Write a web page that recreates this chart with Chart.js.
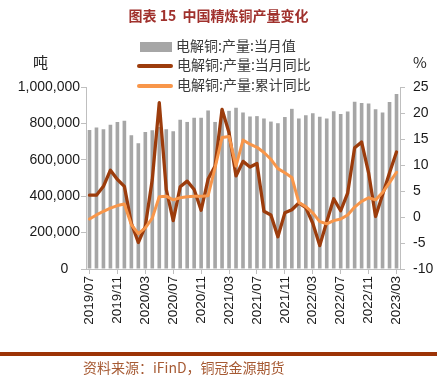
<!DOCTYPE html>
<html><head><meta charset="utf-8">
<script src="https://cdn.jsdelivr.net/npm/chart.js@4.4.0/dist/chart.umd.min.js"></script>
<style>
html,body{margin:0;padding:0;background:#fff;width:437px;height:382px;overflow:hidden;font-family:"Noto Sans CJK SC",sans-serif;}
#c{position:absolute;left:0;top:0;}
.abs{position:absolute;white-space:nowrap;}
#title{left:0;width:437px;top:5px;text-align:center;font-weight:bold;font-size:14px;line-height:20px;color:#A0312D;}
.leg{left:137px;height:20px;font-size:14px;line-height:20px;color:#3a3a3a;}
.leg span.k{display:inline-block;vertical-align:middle;width:36px;margin-right:4px;}
.unit{font-size:15px;line-height:20px;color:#222;}
#rule{left:0;top:352px;width:437px;height:4px;background:#9C3306;}
#src{left:83px;top:357px;font-size:14px;line-height:20px;color:#A65A33;}
</style></head>
<body>
<canvas id="c" width="437" height="382"></canvas>
<div id="title" class="abs">图表 15&nbsp; 中国精炼铜产量变化</div>
<div class="abs leg" style="top:35px;"><span class="k" style="height:10px;background:#A6A6A6;margin-left:3px;width:32px;"></span>电解铜:产量:当月值</div>
<div class="abs leg" style="top:54px;"><span class="k" style="height:4px;background:#9C3C0C;border-radius:2px;"></span>电解铜:产量:当月同比</div>
<div class="abs leg" style="top:74px;"><span class="k" style="height:4px;background:#F8964A;border-radius:2px;"></span>电解铜:产量:累计同比</div>
<div class="abs unit" style="left:33px;top:52px;">吨</div>
<div class="abs unit" style="left:413px;top:52px;">%</div>
<div id="rule" class="abs"></div>
<div id="src" class="abs">资料来源：iFinD，铜冠金源期货</div>
<script>
const categories = [
  "2019/07","2019/08","2019/09","2019/10","2019/11","2019/12",
  "2020/01","2020/02","2020/03","2020/04","2020/05","2020/06","2020/07","2020/08","2020/09","2020/10","2020/11","2020/12",
  "2021/01","2021/02","2021/03","2021/04","2021/05","2021/06","2021/07","2021/08","2021/09","2021/10","2021/11","2021/12",
  "2022/01","2022/02","2022/03","2022/04","2022/05","2022/06","2022/07","2022/08","2022/09","2022/10","2022/11","2022/12",
  "2023/01","2023/02","2023/03"
];
const monthlyOutput = [764000, 777000, 768000, 792000, 808000, 814000, 735000, 691000, 753000, 762000,
  780000, 768000, 757000, 820000, 808000, 831000, 831000, 871000, 808000, 877000,
  869000, 886000, 860000, 838000, 840000, 827000, 810000, 801000, 835000, 880000,
  827000, 845000, 856000, 836000, 827000, 867000, 851000, 866000, 919000, 912000,
  910000, 878000, 860000, 917000, 961000];
const monthlyYoY = [4.2, 4.2, 5.9, 9.0, 7.2, 5.9, -1.2, -4.9, -1.8, 7.2,
  22.0, 5.3, -0.7, 5.8, 6.9, 5.3, 1.3, 7.3, 9.8, 20.7,
  16.2, 7.9, 10.7, 9.6, 10.3, 1.1, 0.4, -3.8, 0.8, 1.4,
  2.7, 1.8, -1.2, -5.5, -0.9, 3.5, 1.2, 4.6, 13.3, 14.4,
  8.5, 0.1, 4.3, 8.5, 12.5];
const cumulativeYoY = [-0.4, 0.4, 1.1, 1.7, 2.2, 2.5, -1.5, -3.2, -2.1, -0.2,
  3.9, 4.0, 3.3, 3.7, 3.9, 4.0, 4.0, 4.1, 9.5, 15.3,
  15.5, 9.8, 14.8, 14.0, 13.4, 12.4, 11.1, 9.3, 8.5, 7.6,
  2.8, 2.0, 0.8, -0.9, -1.3, -0.7, -0.4, 0.4, 1.9, 3.0,
  3.7, 3.3, 4.7, 6.6, 8.6];
const seriesNames = ["电解铜:产量:当月值", "电解铜:产量:当月同比", "电解铜:产量:累计同比"];
const leftTicks = [0, 200000, 400000, 600000, 800000, 1000000];
const rightTicks = [-10, -5, 0, 5, 10, 15, 20, 25];

const axisColor = '#BFBFBF';
const tickFont = {family: '"Liberation Sans", Arial, sans-serif', size: 14};

new Chart(document.getElementById('c'), {
  data: {
    labels: categories,
    datasets: [
      {type: 'line', label: seriesNames[2], data: cumulativeYoY, yAxisID: 'yR', borderColor: '#F8964A',
       borderWidth: 3, pointRadius: 0, tension: 0, order: 1, borderCapStyle: 'round', borderJoinStyle: 'round'},
      {type: 'line', label: seriesNames[1], data: monthlyYoY, yAxisID: 'yR', borderColor: '#9C3C0C',
       borderWidth: 3.3, pointRadius: 0, tension: 0, order: 2, borderCapStyle: 'round', borderJoinStyle: 'round'},
      {type: 'bar', label: seriesNames[0], data: monthlyOutput, yAxisID: 'yL', backgroundColor: '#A6A6A6',
       barPercentage: 0.52, categoryPercentage: 1.0, order: 3}
    ]
  },
  options: {
    responsive: false, animation: false, devicePixelRatio: 1,
    layout: {padding: {top: 87, left: 0, right: 0, bottom: 0}},
    plugins: {legend: {display: false}, tooltip: {enabled: false}, title: {display: false}},
    scales: {
      x: {
        type: 'category', offset: true,
        grid: {display: true, drawOnChartArea: false, offset: false, color: axisColor, tickLength: 5},
        border: {color: axisColor},
        ticks: {autoSkip: false, maxRotation: 90, minRotation: 90, color: '#1a1a1a', padding: 2,
                font: {family: '"Liberation Sans", Arial, sans-serif', size: 13.5},
                callback: function(v){ return categories[v]; }},
        afterBuildTicks: function(s){ s.ticks = s.ticks.filter(t => t.value % 4 === 0); },
        afterFit: function(s){ s.height = 113; }
      },
      yL: {
        position: 'left', min: 0, max: 1000000,
        afterBuildTicks: function(s){ s.ticks = leftTicks.map(v => ({value: v})); },
        grid: {drawOnChartArea: false, color: axisColor, tickLength: 5},
        border: {color: axisColor},
        ticks: {color: '#1a1a1a', padding: 1, font: tickFont,
                callback: function(v){ return v === 0 ? '0\u2007\u00a0' : Number(v).toLocaleString('en-US'); }},
        afterFit: function(s){ s.width = 86; }
      },
      yR: {
        position: 'right', min: -10, max: 25,
        afterBuildTicks: function(s){ s.ticks = rightTicks.map(v => ({value: v})); },
        grid: {drawOnChartArea: false, color: axisColor, tickLength: 5},
        border: {color: axisColor},
        ticks: {color: '#1a1a1a', padding: 8, font: tickFont},
        afterFit: function(s){ s.width = 37; }
      }
    }
  }
});
</script>
</body></html>
